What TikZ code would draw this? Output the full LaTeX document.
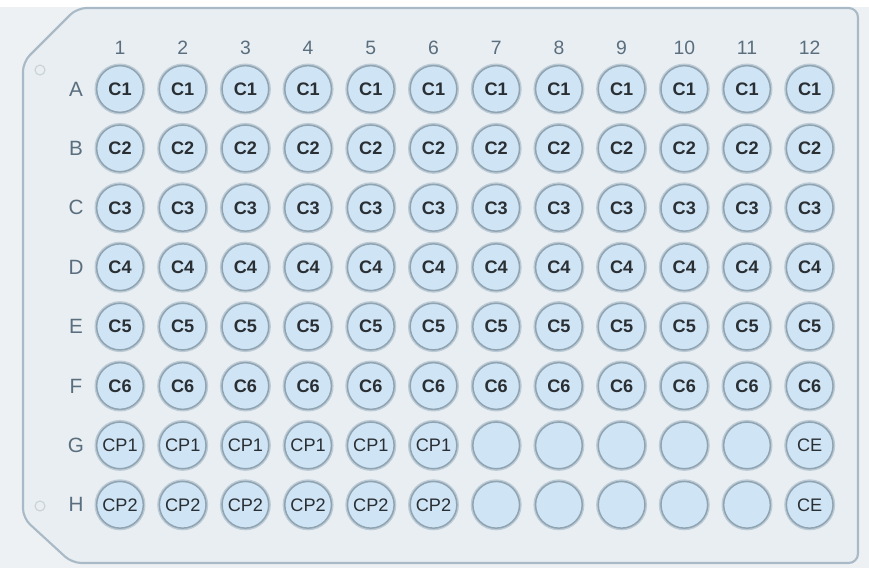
\documentclass[tikz,border=0pt]{standalone}
\usepackage{fontspec}
\setmainfont{Liberation Sans}
\definecolor{bgc}{HTML}{EEF1F4}
\definecolor{platec}{HTML}{E8EEF2}
\definecolor{platerim}{HTML}{A9BAC6}
\definecolor{wellfill}{HTML}{CFE4F5}
\definecolor{wellrim}{HTML}{8FA3B1}
\definecolor{wellhalo}{HTML}{BCCBD5}
\definecolor{labc}{HTML}{5A6E7E}
\definecolor{txtc}{HTML}{2A2F33}
\definecolor{dotc}{HTML}{C9D2D8}
\tikzset{
  well/.style={circle, fill=wellfill, draw=wellrim, line width=1.1pt,
    minimum size=35pt, inner sep=0pt, font=\fontsize{13.6}{15}\selectfont, text=txtc,
    preaction={draw=wellhalo, line width=3.2pt}},
  cwell/.style={well, font=\fontsize{13.6}{15}\selectfont\bfseries},
  collab/.style={font=\fontsize{14.5}{16}\selectfont, text=labc, inner sep=0pt},
  rowlab/.style={font=\fontsize{15.5}{17}\selectfont, text=labc, inner sep=0pt},
  hole/.style={circle, draw=dotc, line width=0.8pt, minimum size=7.5pt, inner sep=0pt}
}
\begin{document}
\begin{tikzpicture}[x=0.75pt,y=-0.75pt]
\useasboundingbox (0,0) rectangle (869,568);
\fill[bgc] (0,0) rectangle (869,568);
\fill[white] (0,0) rectangle (869,7);
% plate
\draw[platerim, fill=platec, line width=1.6pt, rounded corners=7pt]
  (23,62) -- (77,8) -- (858,8) -- (858,563) -- (72,563) -- (23,518) -- cycle;
\node[hole] (h1) at (40,70) {};
\node[hole] (h2) at (40,506) {};
% column labels
\foreach \c in {1,...,12}{
  \node[collab] (col\c) at ({120+62.7*(\c-1)},48) {\c};
}
% row labels and wells
\foreach \r/\n [count=\i from 0] in {A/C1,B/C2,C/C3,D/C4,E/C5,F/C6}{
  \node[rowlab] (row\r) at (76,{89+59.4*\i}) {\r};
  \foreach \c in {1,...,12}{
    \node[cwell] (w\r\c) at ({120+62.7*(\c-1)},{89+59.4*\i}) {\n};
  }
}
\foreach \r/\n/\e [count=\i from 6] in {G/CP1/CE,H/CP2/CE}{
  \node[rowlab] (row\r) at (76,{89+59.4*\i}) {\r};
  \foreach \c in {1,...,6}{
    \node[well] (w\r\c) at ({120+62.7*(\c-1)},{89+59.4*\i}) {\n};
  }
  \foreach \c in {7,...,11}{
    \node[well] (w\r\c) at ({120+62.7*(\c-1)},{89+59.4*\i}) {};
  }
  \node[well] (w\r12) at ({120+62.7*11},{89+59.4*\i}) {\e};
}
\end{tikzpicture}
\end{document}
